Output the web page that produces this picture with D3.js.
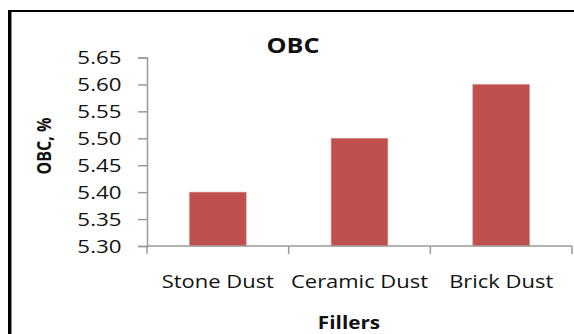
<!DOCTYPE html>
<html>
<head>
<meta charset="utf-8">
<script src="https://cdn.jsdelivr.net/npm/d3@7"></script>
<style>
  html, body { margin: 0; padding: 0; background: #fff; }
  svg { display: block; }
  text { font-family: "Open Sans", "Noto Sans", sans-serif; fill: #111; }
</style>
</head>
<body>
<svg id="chart" width="574" height="334"></svg>
<script>
// Optimum binder content by filler type
const categories = ["Stone Dust", "Ceramic Dust", "Brick Dust"];
const obcValues = [5.40, 5.50, 5.60];
const yTicks = [5.30, 5.35, 5.40, 5.45, 5.50, 5.55, 5.60, 5.65];

const titleText = "OBC";
const yLabelText = "OBC, %";
const xLabelText = "Fillers";

const W = 574, H = 334;
const plot = { left: 147, right: 572, top: 57.5, bottom: 246 };
const sx = 1.24;          // horizontal text stretch
const axisColor = "#9a9a9a";
const barColor = "#C0504D";

const svg = d3.select("#chart");

// frame edges
svg.append("line").attr("x1", 8).attr("x2", W).attr("y1", 11).attr("y2", 11)
  .attr("stroke", "#000").attr("stroke-width", 2);
svg.append("line").attr("x1", 9.5).attr("x2", 9.5).attr("y1", 10).attr("y2", H)
  .attr("stroke", "#000").attr("stroke-width", 3);
svg.append("line").attr("x1", 11.5).attr("x2", 11.5).attr("y1", 12).attr("y2", H)
  .attr("stroke", "#888").attr("stroke-width", 1);

const x = d3.scaleBand()
  .domain(categories)
  .range([plot.left, plot.right])
  .paddingInner(0.6)
  .paddingOuter(0.3);

const y = d3.scaleLinear()
  .domain([5.30, 5.65])
  .range([plot.bottom, plot.top]);

// bars
svg.append("g").selectAll("rect")
  .data(categories.map((c, i) => ({ c, v: obcValues[i] })))
  .join("rect")
  .attr("x", d => x(d.c))
  .attr("y", d => y(d.v))
  .attr("width", x.bandwidth())
  .attr("height", d => y(5.30) - y(d.v))
  .attr("fill", barColor)
  .attr("stroke", "#d98a88")
  .attr("stroke-width", 0.6);

// y axis
const yAxis = d3.axisLeft(y).tickValues(yTicks).tickFormat(d3.format(".2f"))
  .tickSize(9).tickPadding(0);
const gy = svg.append("g").attr("transform", `translate(${plot.left},0)`).call(yAxis);
gy.select(".domain").attr("stroke", axisColor).attr("stroke-width", 1.5);
gy.selectAll(".tick line").attr("stroke", axisColor).attr("stroke-width", 1.5);
gy.selectAll(".tick text")
  .attr("font-size", 18)
  .attr("fill", "#1a1a1a")
  .attr("x", -25.5 / sx)
  .attr("dy", "0.36em")
  .attr("transform", `scale(${sx},1)`);

// x axis with tick marks on the category boundaries
const xAxisG = svg.append("g").attr("transform", `translate(0,${plot.bottom})`);
xAxisG.append("line")
  .attr("x1", plot.left).attr("x2", plot.right)
  .attr("stroke", axisColor).attr("stroke-width", 1.5);
const step = x.step();
xAxisG.selectAll("line.bt")
  .data(d3.range(categories.length + 1).map(i => plot.left + i * step))
  .join("line").attr("class", "bt")
  .attr("x1", d => d).attr("x2", d => d)
  .attr("y1", 0).attr("y2", 8)
  .attr("stroke", axisColor).attr("stroke-width", 1.5);
xAxisG.selectAll("text.cat")
  .data(categories)
  .join("text").attr("class", "cat")
  .attr("transform", d => `translate(${x(d) + x.bandwidth() / 2},42) scale(${sx - 0.02},1)`)
  .attr("text-anchor", "middle")
  .attr("font-size", 18)
  .attr("fill", "#1a1a1a")
  .text(d => d);

// title
svg.append("text")
  .attr("transform", `translate(293,53) scale(${sx - 0.04},1)`)
  .attr("text-anchor", "middle")
  .attr("font-size", 21)
  .attr("font-weight", "bold")
  .text(titleText);

// y label
svg.append("text")
  .attr("transform", `translate(51,146) scale(${sx},1) rotate(-90)`)
  .attr("text-anchor", "middle")
  .attr("font-size", 16)
  .attr("font-weight", "bold")
  .text(yLabelText);

// x label
svg.append("text")
  .attr("transform", `translate(349,329) scale(${sx - 0.02},1)`)
  .attr("text-anchor", "middle")
  .attr("font-size", 17)
  .attr("font-weight", "bold")
  .text(xLabelText);
</script>
</body>
</html>
